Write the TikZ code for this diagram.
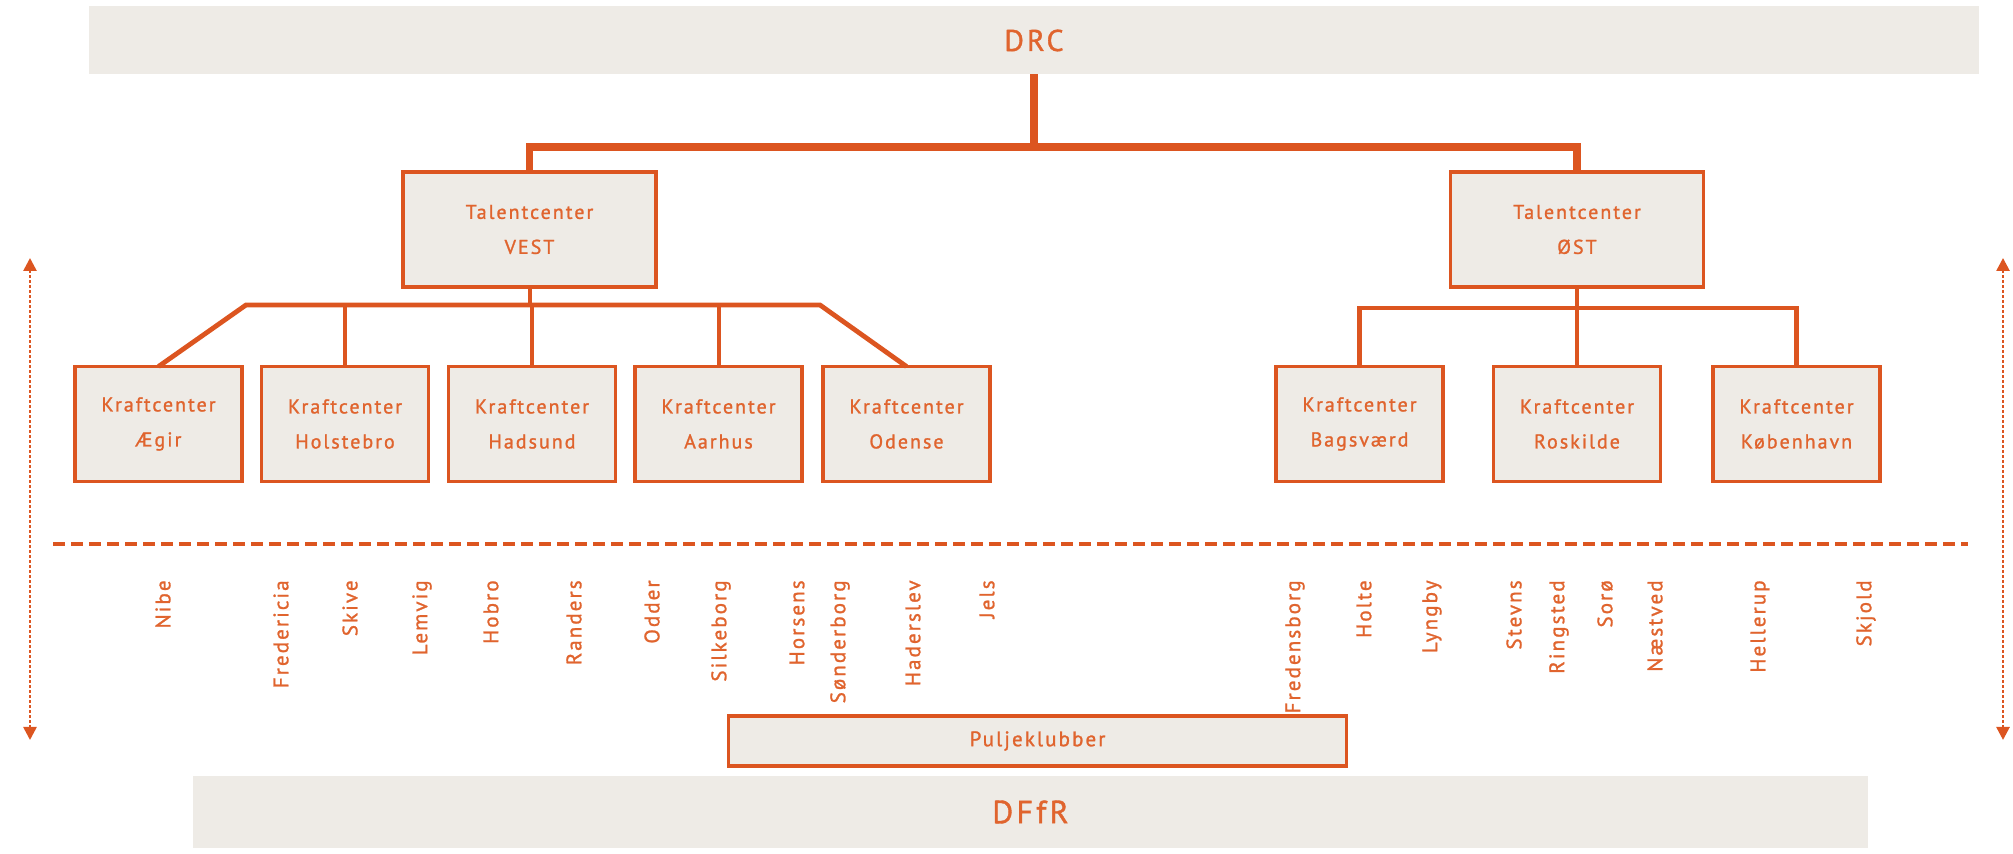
\documentclass[tikz,border=0pt]{standalone}
\usepackage{fontspec}
\setmainfont{PT Sans}[LetterSpace=10,FakeBold=1.2]
\usetikzlibrary{arrows.meta}
\definecolor{org}{HTML}{DC5520}
\definecolor{orgtxt}{HTML}{E0642E}
\definecolor{boxgray}{HTML}{EEEBE6}
\begin{document}
\begin{tikzpicture}[x=0.5pt,y=-0.5pt,
  bandbox/.style={fill=boxgray,draw=none,inner sep=0pt,outer sep=0pt,text=orgtxt},
  talentbox/.style={fill=boxgray,draw=org,line width=1.8pt,inner sep=0pt,outer sep=0pt,
    minimum width=126.5pt,minimum height=57.5pt,align=center,text=orgtxt,
    font=\fontsize{10}{17.5}\selectfont},
  kraftbox/.style={talentbox,minimum width=83.5pt},
  club/.style={rotate=90,anchor=east,inner sep=0pt,text=orgtxt,font=\fontsize{10.5}{12}\selectfont},
  topbus/.style={draw=org,line width=3.6pt},
  bus/.style={draw=org,line width=2.4pt,line join=miter},
  twig/.style={draw=org,line width=2pt},
  divider/.style={draw=org,line width=2pt,dash pattern=on 6.2pt off 2.8pt},
  spanarrow/.style={draw=org,line width=1.3pt,dash pattern=on 1.3pt off 1.2pt,
    {Triangle[width=6.5pt,length=6.5pt]}-{Triangle[width=6.5pt,length=6.5pt]}}
]
\useasboundingbox (0,0) rectangle (2013,854);

% bands
\node[bandbox,minimum width=945pt,minimum height=34pt,font=\fontsize{15}{18}\selectfont] (drc) at (1034,40.5) {DRC};
\node[bandbox,minimum width=837.5pt,minimum height=36pt,font=\fontsize{16}{19}\selectfont] (dffr) at (1030.5,812) {DFfR};

% talent centres
\node[talentbox] (vest) at (529.5,229.5) {Talentcenter\\VEST};
\node[talentbox] (ost) at (1577,229.5) {Talentcenter\\ØST};

% kraft centres west
\node[kraftbox] (k1) at (158.5,424) {Kraftcenter\\Ægir};
\node[kraftbox] (k2) at (345,424) {Kraftcenter\\Holstebro};
\node[kraftbox] (k3) at (532,424) {Kraftcenter\\Hadsund};
\node[kraftbox] (k4) at (718.5,424) {Kraftcenter\\Aarhus};
\node[kraftbox] (k5) at (906.5,424) {Kraftcenter\\Odense};
% kraft centres east
\node[kraftbox] (e1) at (1359.5,424) {Kraftcenter\\Bagsværd};
\node[kraftbox] (e2) at (1577,424) {Kraftcenter\\Roskilde};
\node[kraftbox] (e3) at (1796.5,424) {Kraftcenter\\København};

% pool clubs
\node[talentbox,minimum width=309pt,minimum height=25pt,font=\fontsize{10.5}{12}\selectfont] (pulje) at (1037.5,741) {Puljeklubber};

% top connectors
\coordinate (tj) at (1034,147);
\draw[topbus] (drc.south) -- (tj);
\draw[topbus,line join=miter] (vest.north) -- (vest.north |- tj) -- (ost.north |- tj) -- (ost.north);

% west connectors
\coordinate (wj) at (529.5,305);
\coordinate (wl) at (246,305);
\coordinate (wr) at (820,305);
\draw[twig] (vest.south) -- (wj);
\draw[bus] (k1.north) -- (wl) -- (wr) -- (k5.north);
\draw[twig] (k2.north) -- (k2.north |- wj);
\draw[twig] (k3.north) -- (k3.north |- wj);
\draw[twig] (k4.north) -- (k4.north |- wj);

% east connectors
\coordinate (ej) at (1577,308);
\draw[twig] (ost.south) -- (e2.north);
\draw[bus] (e1.north) -- (e1.north |- ej) -- (e3.north |- ej) -- (e3.north);

% divider
\coordinate (dl) at (53,544);
\coordinate (dr) at (1968,544);
\draw[divider] (dl) -- (dr);

% range arrows
\coordinate (la) at (30,258);
\coordinate (lb) at (30,740);
\coordinate (ra) at (2003,258);
\coordinate (rb) at (2003,740);
\draw[spanarrow] (la) -- (lb);
\draw[spanarrow] (ra) -- (rb);

% clubs
\foreach \x/\n/\t in {163/c1/Nibe,281/c2/Fredericia,350/c3/Skive,422/c4/Lemvig,491/c5/Hobro,
  574/c6/Randers,652/c7/Odder,721/c8/Silkeborg,797/c9/Horsens,840/c10/Sønderborg,
  913/c11/Haderslev,987/c12/Jels,1295/c13/Fredensborg,1364/c14/Holte,1432/c15/Lyngby,
  1514/c16/Stevns,1559/c17/Ringsted,1605/c18/Sorø,1655/c19/Næstved,1760/c20/Hellerup,
  1866/c21/Skjold}
  \node[club] (\n) at (\x,580) {\t};
\end{tikzpicture}
\end{document}
